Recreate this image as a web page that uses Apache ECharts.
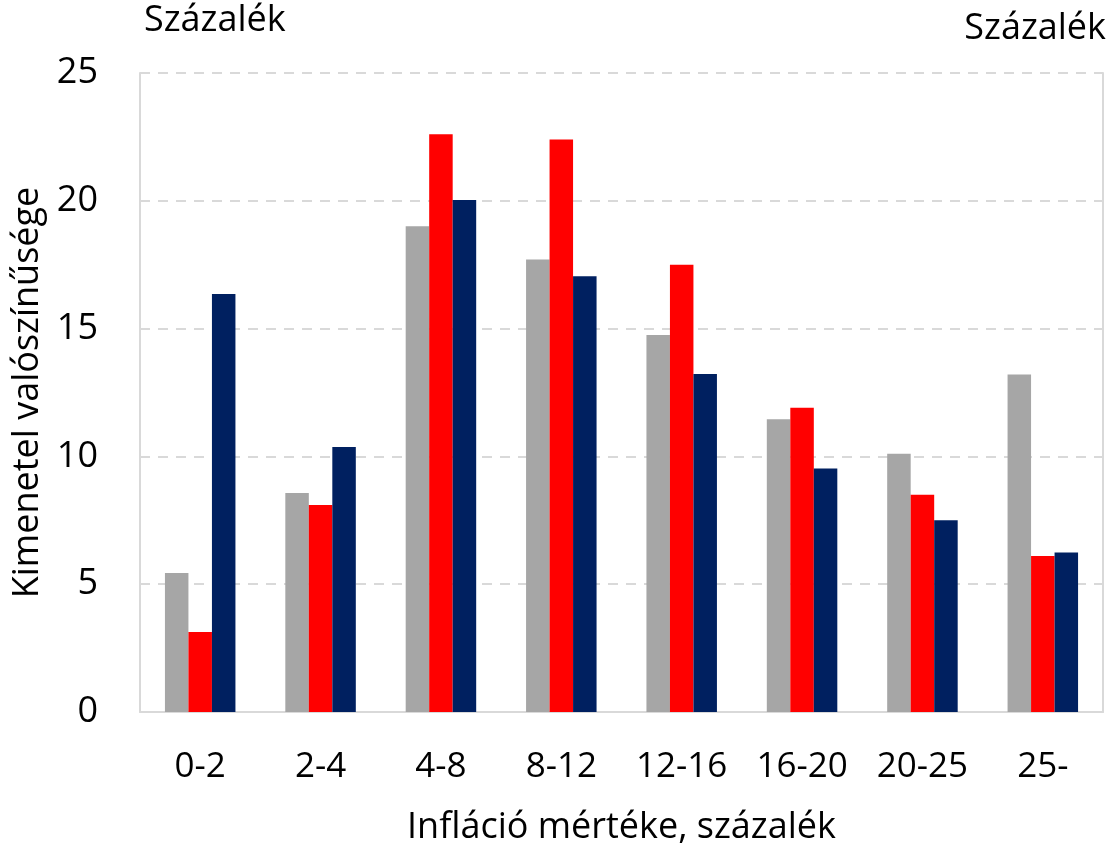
<!DOCTYPE html>
<html>
<head>
<meta charset="utf-8">
<script src="https://cdn.jsdelivr.net/npm/echarts@6/dist/echarts.min.js"></script>
<style>
  html, body { margin: 0; padding: 0; background: #fff; }
  #chart { width: 1112px; height: 847px; }
</style>
</head>
<body>
<div id="chart"></div>
<script>
var myChart = echarts.init(document.getElementById('chart'));

var categories = ['0-2', '2-4', '4-8', '8-12', '12-16', '16-20', '20-25', '25-'];
var grayData = [5.44, 8.57, 19.0, 17.7, 14.75, 11.45, 10.1, 13.2];
var redData = [3.13, 8.1, 22.6, 22.4, 17.5, 11.9, 8.5, 6.1];
var navyData = [16.35, 10.37, 20.03, 17.05, 13.22, 9.53, 7.5, 6.24];
var yTicks = { min: 0, max: 25, interval: 5 };

var fontFam = '"Open Sans", sans-serif';
var fs = 36;

option = {
    animation: false,
    backgroundColor: '#fff',
    grid: { left: 140, right: 9, top: 73, bottom: 135, outerBoundsMode: 'none' },
    graphic: [
        { type: 'text', left: 144, top: 3, style: { text: 'Százalék', font: fs + 'px ' + fontFam, fill: '#000' } },
        { type: 'text', right: 6, top: 11, style: { text: 'Százalék', font: fs + 'px ' + fontFam, fill: '#000' } }
    ],
    xAxis: {
        type: 'category',
        data: categories,
        name: 'Infláció mértéke, százalék',
        nameLocation: 'middle',
        nameGap: 98,
        nameTextStyle: { fontFamily: fontFam, fontSize: fs, color: '#000' },
        axisLine: { lineStyle: { color: '#d9d9d9', width: 2 } },
        axisTick: { show: false },
        axisLabel: { interval: 0, hideOverlap: false, fontFamily: fontFam, fontSize: 35, color: '#000', margin: 38 }
    },
    yAxis: [{
        type: 'value',
        min: yTicks.min, max: yTicks.max, interval: yTicks.interval,
        name: 'Kimenetel valószínűsége',
        nameLocation: 'middle',
        nameGap: 87,
        nameTextStyle: { fontFamily: fontFam, fontSize: fs, color: '#000' },
        axisLine: { show: true, lineStyle: { color: '#d9d9d9', width: 2 } },
        axisTick: { show: false },
        axisLabel: { fontFamily: fontFam, fontSize: fs, color: '#000', margin: 42 },
        splitLine: { lineStyle: { color: '#d9d9d9', width: 2, type: [10, 8] } }
    }, {
        type: 'value',
        position: 'right',
        min: yTicks.min, max: yTicks.max, interval: yTicks.interval,
        axisLine: { show: true, lineStyle: { color: '#d9d9d9', width: 2 } },
        axisTick: { show: false },
        axisLabel: { show: false },
        splitLine: { show: false }
    }],
    series: [
        { type: 'bar', data: grayData, barWidth: 23.5, barGap: '0%', itemStyle: { color: '#a6a6a6' } },
        { type: 'bar', data: redData, barWidth: 23.5, barGap: '0%', itemStyle: { color: '#ff0000' } },
        { type: 'bar', data: navyData, barWidth: 23.5, barGap: '0%', itemStyle: { color: '#002060' } }
    ]
};
myChart.setOption(option);
</script>
</body>
</html>
